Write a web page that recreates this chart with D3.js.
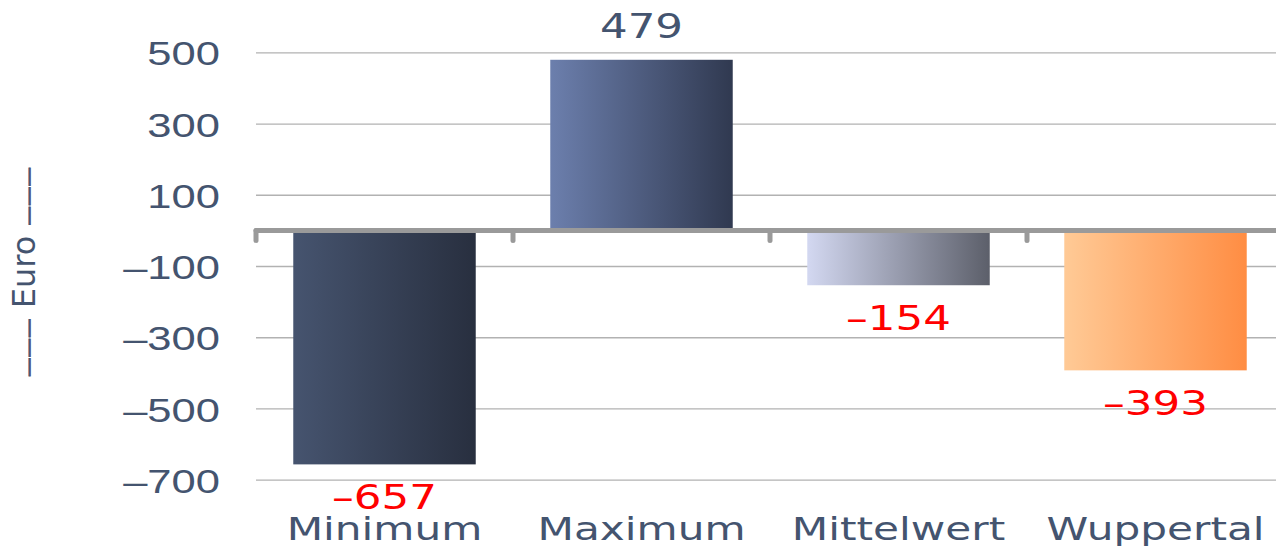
<!DOCTYPE html>
<html>
<head>
<meta charset="utf-8">
<script src="https://cdn.jsdelivr.net/npm/d3@7"></script>
<style>
  body { margin: 0; background: #fff; }
  svg { display: block; font-family: "DejaVu Sans", Verdana, sans-serif; }
</style>
</head>
<body>
<div id="chart"></div>
<script>
// data
const categories = ["Minimum", "Maximum", "Mittelwert", "Wuppertal"];
const values = [-657, 479, -154, -393];
const yTicks = [500, 300, 100, -100, -300, -500, -700];
const yTitle = "Euro";

// bar gradients, left -> right
const gradStops = [
  ["#46546f", "#282f3f"],
  ["#6c7fad", "#303950"],
  ["#d3d8f1", "#5c5f6a"],
  ["#ffca96", "#ff8d43"]
];

const width = 1276;
const height = 546;
const textColor = "#44546f";
const stretch = 1.32;   // text in the original is drawn wide

const svg = d3.select("#chart")
  .append("svg")
  .attr("width", width)
  .attr("height", height);

const x = d3.scaleBand()
  .domain(categories)
  .range([256, 1284])
  .paddingInner(0.29)
  .paddingOuter(0.145);

const y = d3.scaleLinear()
  .domain([-700, 500])
  .range([479.7, 52.3]);

const fmt = d => d < 0 ? "\u2013" + Math.abs(d) : String(d);

const defs = svg.append("defs");
gradStops.forEach((s, i) => {
  const g = defs.append("linearGradient")
    .attr("id", "grad" + i)
    .attr("x1", "0%").attr("x2", "100%")
    .attr("y1", "0%").attr("y2", "0%");
  g.append("stop").attr("offset", "0%").attr("stop-color", s[0]);
  g.append("stop").attr("offset", "100%").attr("stop-color", s[1]);
});

// y axis with gridlines
const yAxis = svg.append("g")
  .attr("transform", "translate(256,0)")
  .call(d3.axisLeft(y).tickValues(yTicks).tickSize(-(width - 256)).tickFormat(fmt));

yAxis.select(".domain").remove();
yAxis.selectAll(".tick line")
  .attr("stroke", "#b2b2b2")
  .attr("stroke-width", 1.3);
yAxis.selectAll(".tick text")
  .attr("x", 0)
  .attr("dy", "0.38em")
  .attr("transform", `translate(-36,0) scale(${stretch},1)`)
  .attr("fill", textColor)
  .style("font-size", "33px");

// bars
svg.selectAll(".bar")
  .data(values)
  .enter()
  .append("rect")
  .attr("class", "bar")
  .attr("x", (d, i) => x(categories[i]))
  .attr("width", x.bandwidth())
  .attr("y", d => y(Math.max(0, d)))
  .attr("height", d => Math.abs(y(d) - y(0)))
  .attr("fill", (d, i) => `url(#grad${i})`);

// zero line with category ticks
const zero = svg.append("g").attr("stroke", "#9a9a9a").attr("stroke-linecap", "round");
zero.append("line")
  .attr("x1", 256).attr("x2", width + 10)
  .attr("y1", y(0)).attr("y2", y(0))
  .attr("stroke-width", 5);
zero.selectAll(".ztick")
  .data(categories)
  .enter()
  .append("line")
  .attr("class", "ztick")
  .attr("x1", d => x(d) - x.step() * x.paddingInner() / 2)
  .attr("x2", d => x(d) - x.step() * x.paddingInner() / 2)
  .attr("y1", y(0))
  .attr("y2", y(0) + 10)
  .attr("stroke-width", 5);

// value labels
svg.selectAll(".val")
  .data(values)
  .enter()
  .append("text")
  .attr("class", "val")
  .attr("transform", (d, i) => {
    const cx = x(categories[i]) + x.bandwidth() / 2;
    const cy = d < 0 ? y(d) + 45 : y(d) - 22;
    return `translate(${cx},${cy}) scale(${stretch},1)`;
  })
  .attr("text-anchor", "middle")
  .attr("fill", d => d < 0 ? "#ff0000" : textColor)
  .style("font-size", "33px")
  .text(fmt);

// category labels
svg.selectAll(".cat")
  .data(categories)
  .enter()
  .append("text")
  .attr("class", "cat")
  .attr("transform", d => `translate(${x(d) + x.bandwidth() / 2},540) scale(${stretch},1)`)
  .attr("text-anchor", "middle")
  .attr("fill", textColor)
  .style("font-size", "32px")
  .text(d => d);

// y title
const title = svg.append("text")
  .attr("transform", "translate(35,272) rotate(-90)")
  .attr("text-anchor", "middle")
  .attr("fill", textColor)
  .style("font-size", "32px");
title.append("tspan").style("font-size", "19.5px").attr("stroke", textColor).attr("stroke-width", 0.9).text("\u2014\u2014\u2014");
title.append("tspan").text(" " + yTitle + " ");
title.append("tspan").style("font-size", "19.5px").attr("stroke", textColor).attr("stroke-width", 0.9).text("\u2014\u2014\u2014");
</script>
</body>
</html>
